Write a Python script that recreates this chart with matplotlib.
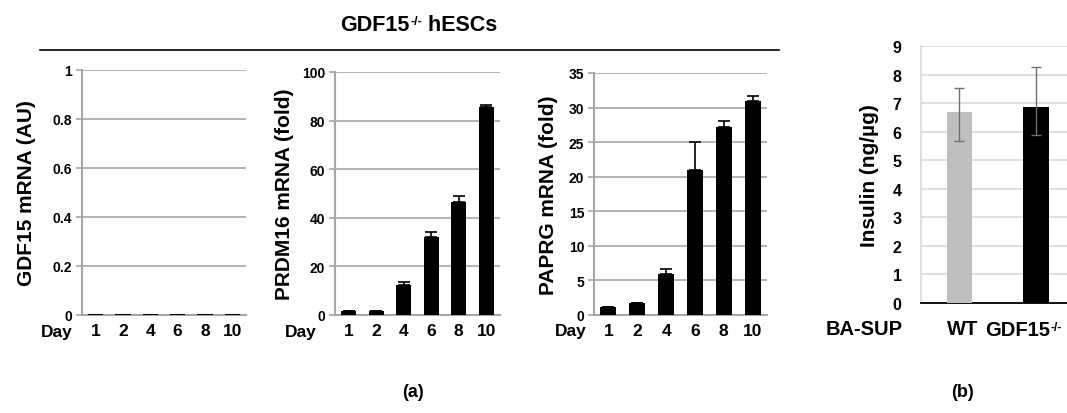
import numpy as np
import matplotlib
matplotlib.use("Agg")
import matplotlib.pyplot as plt
from matplotlib.lines import Line2D

plt.rcParams['font.family'] = ['Liberation Sans', 'DejaVu Sans']
plt.rcParams['font.weight'] = 'bold'

# data
days = ['1', '2', '4', '6', '8', '10']
gdf15 = [0.004, 0.004, 0.004, 0.004, 0.004, 0.004]
prdm16 = [1.5, 1.5, 12.5, 32.0, 46.5, 85.5]
prdm16_err = [0.0, 0.0, 1.0, 2.3, 2.5, 1.0]
paprg = [1.2, 1.7, 5.9, 21.0, 27.2, 31.0]
paprg_err = [0.0, 0.0, 0.7, 4.0, 0.8, 0.7]

groups = ['WT', 'GDF15']
insulin = [6.68, 6.86]
insulin_lo = [1.0, 0.97]
insulin_hi = [0.85, 1.4]

W, H = 1067, 414
fig = plt.figure(figsize=(W / 100, H / 100), dpi=100)


def box(l, r, t, b):
    return [l / W, 1 - b / H, (r - l) / W, (b - t) / H]


def ftext(x, y, s, **kw):
    return fig.text(x / W, 1 - y / H, s, **kw)


def sup_text(x, y, base, sup, tail, size, supsize):
    # base text with a raised "-/-" and optional tail text after it
    t1 = ftext(x, y, base, fontsize=size, fontweight='bold', ha='left', va='bottom')
    t2 = fig.text(0, 0, '')
    t2 = plt.annotate(sup, xy=(1, 1), xycoords=t1, xytext=(0.5, -1), textcoords='offset points',
                      fontsize=supsize, fontweight='bold', ha='left', va='top',
                      annotation_clip=False)
    if tail:
        plt.annotate(tail, xy=(1, 0), xycoords=(t2, t1), fontsize=size, fontweight='bold',
                     ha='left', va='bottom', annotation_clip=False)


grid_c = '#a6a6a6'


def day_panel(rect, vals, err, ymax, step, ylabel, fmt, day_x, lpad):
    ax = fig.add_axes(rect)
    x = np.arange(len(vals))
    ax.bar(x, vals, width=0.55, color='black', zorder=3)
    if err is not None:
        ax.errorbar(x, vals, yerr=[np.zeros(len(err)), err], fmt='none',
                    ecolor='black', elinewidth=1.2, capsize=4, capthick=1.2, zorder=4)
    ax.set_xlim(-0.5, len(vals) - 0.5)
    ax.set_ylim(0, ymax)
    ticks = np.arange(0, ymax + step / 2, step)
    ax.set_yticks(ticks)
    ax.set_yticklabels([fmt(t) for t in ticks], fontsize=10, fontweight='bold')
    ax.yaxis.grid(True, color=grid_c, lw=1.2, zorder=0)
    ax.set_xticks(x)
    ax.set_xticklabels(days, fontsize=12.5, fontweight='bold')
    ax.tick_params(axis='x', length=0, pad=6)
    ax.tick_params(axis='y', length=4, color=grid_c, width=1.2, pad=3)
    for s in ['top', 'right']:
        ax.spines[s].set_visible(False)
    ax.spines['left'].set_color(grid_c)
    ax.spines['left'].set_linewidth(1.5)
    ax.spines['bottom'].set_color(grid_c)
    ax.spines['bottom'].set_linewidth(1.5)
    ax.set_ylabel(ylabel, fontsize=15, fontweight='bold', labelpad=lpad)
    ax.text(day_x, -0.035, 'Day', transform=ax.transAxes, fontsize=12.5, fontweight='bold',
            ha='right', va='top')
    return ax


day_panel(box(82, 246, 71, 316), gdf15, None, 1.0, 0.2, 'GDF15 mRNA (AU)',
          lambda t: '0' if t == 0 else ('1' if t == 1 else '%.1f' % t), -0.06, 12)
day_panel(box(335, 500, 73, 316), prdm16, prdm16_err, 100, 20, 'PRDM16 mRNA (fold)',
          lambda t: '%d' % t, -0.11, 6)
day_panel(box(594, 767, 74, 316), paprg, paprg_err, 35, 5, 'PAPRG mRNA (fold)',
          lambda t: '%d' % t, -0.04, 8)

# panel b
ax = fig.add_axes(box(921, 1067, 47, 304))
xb = np.arange(len(insulin))
ax.bar(xb, insulin, width=0.33, color=['#bfbfbf', 'black'], zorder=3)
ax.errorbar(xb, insulin, yerr=[insulin_lo, insulin_hi], fmt='none', ecolor='#6f6f6f',
            elinewidth=1.0, capsize=3.5, capthick=1.0, zorder=4)
ax.set_xlim(-0.503, 1.405)
ax.set_ylim(0, 9)
ax.set_yticks(range(10))
ax.set_yticklabels([str(i) for i in range(10)], fontsize=11.5, fontweight='bold')
ax.yaxis.grid(True, color='#d9d9d9', lw=1.2, zorder=0)
ax.tick_params(axis='y', length=0, pad=14)
ax.set_xticks([])
for s in ['top', 'right']:
    ax.spines[s].set_visible(False)
ax.spines['left'].set_color('#d9d9d9')
ax.spines['left'].set_linewidth(1.2)
ax.spines['bottom'].set_color('black')
ax.spines['bottom'].set_linewidth(1.3)
ax.set_ylabel('Insulin (ng/µg)', fontsize=15, fontweight='bold', labelpad=10)

ftext(864, 330, 'BA-SUP', fontsize=14.5, fontweight='bold', ha='center', va='center')
ftext(963, 330, groups[0], fontsize=14.5, fontweight='bold', ha='center', va='center')
sup_text(985, 340, groups[1], '-/-', '', 14.5, 8.5)

# header
fig.add_artist(Line2D([40 / W, 779 / W], [1 - 51 / H, 1 - 51 / H], color='black', lw=1.2))
sup_text(340, 36, 'GDF15', '-/-', ' hESCs', 15.5, 9)

ftext(413, 393, '(a)', fontsize=13, fontweight='bold', ha='center', va='center')
ftext(963, 393, '(b)', fontsize=13, fontweight='bold', ha='center', va='center')

fig.savefig('out.png', dpi=100)
